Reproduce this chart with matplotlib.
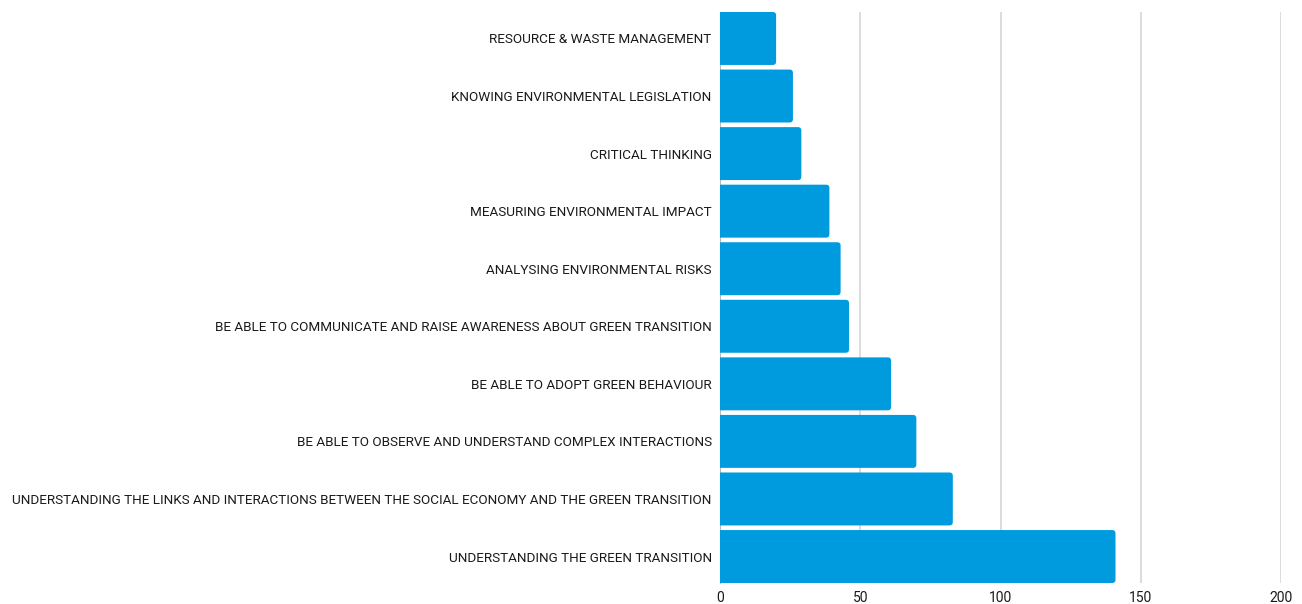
import matplotlib
matplotlib.use("Agg")
import matplotlib.pyplot as plt
from matplotlib.patches import FancyBboxPatch

skills = [
    "UNDERSTANDING THE GREEN TRANSITION",
    "UNDERSTANDING THE LINKS AND INTERACTIONS BETWEEN THE SOCIAL ECONOMY AND THE GREEN TRANSITION",
    "BE ABLE TO OBSERVE AND UNDERSTAND COMPLEX INTERACTIONS",
    "BE ABLE TO ADOPT GREEN BEHAVIOUR",
    "BE ABLE TO COMMUNICATE AND RAISE AWARENESS ABOUT GREEN TRANSITION",
    "ANALYSING ENVIRONMENTAL RISKS",
    "MEASURING ENVIRONMENTAL IMPACT",
    "CRITICAL THINKING",
    "KNOWING ENVIRONMENTAL LEGISLATION",
    "RESOURCE & WASTE MANAGEMENT",
]
counts = [141, 83, 70, 61, 46, 43, 39, 29, 26, 20]
xticks = [0, 50, 100, 150, 200]

plt.rcParams['font.family'] = ['Roboto', 'DejaVu Sans']

fig = plt.figure(figsize=(13.02, 6.04), dpi=100)
ax = fig.add_axes([720/1302, 1-583/604, 561/1302, 571/604])

bar_h = 0.92
ypos = list(range(len(skills)))
bars = ax.barh(ypos, counts, height=bar_h, color="#009bde")
# swap plain bars for rounded ones
for b in bars:
    x0, y0 = b.get_x(), b.get_y()
    w, h = b.get_width(), b.get_height()
    b.set_visible(False)
    p = FancyBboxPatch((x0 - 3, y0), w + 3, h,
                       boxstyle="round,pad=0,rounding_size=1.2",
                       mutation_aspect=0.049, fc="#009bde", ec="none",
                       zorder=3)
    ax.add_patch(p)

ax.set_xlim(0, 200)
ax.set_ylim(-0.46, len(skills) - 0.54)
ax.set_xticks(xticks)
ax.set_yticks(ypos)
ax.set_yticklabels(skills)
ax.xaxis.grid(True, color="#d9d9d9", linewidth=1.3)
ax.set_axisbelow(True)
for s in ["top", "right", "bottom"]:
    ax.spines[s].set_visible(False)
ax.spines["left"].set_color("#bbbbbb")
ax.tick_params(axis="x", length=0, labelsize=10, colors="#1a1a1a", pad=6)
ax.tick_params(axis="y", length=0, labelsize=9.7, colors="#1a1a1a", pad=6)

fig.savefig("out.png", dpi=100)
